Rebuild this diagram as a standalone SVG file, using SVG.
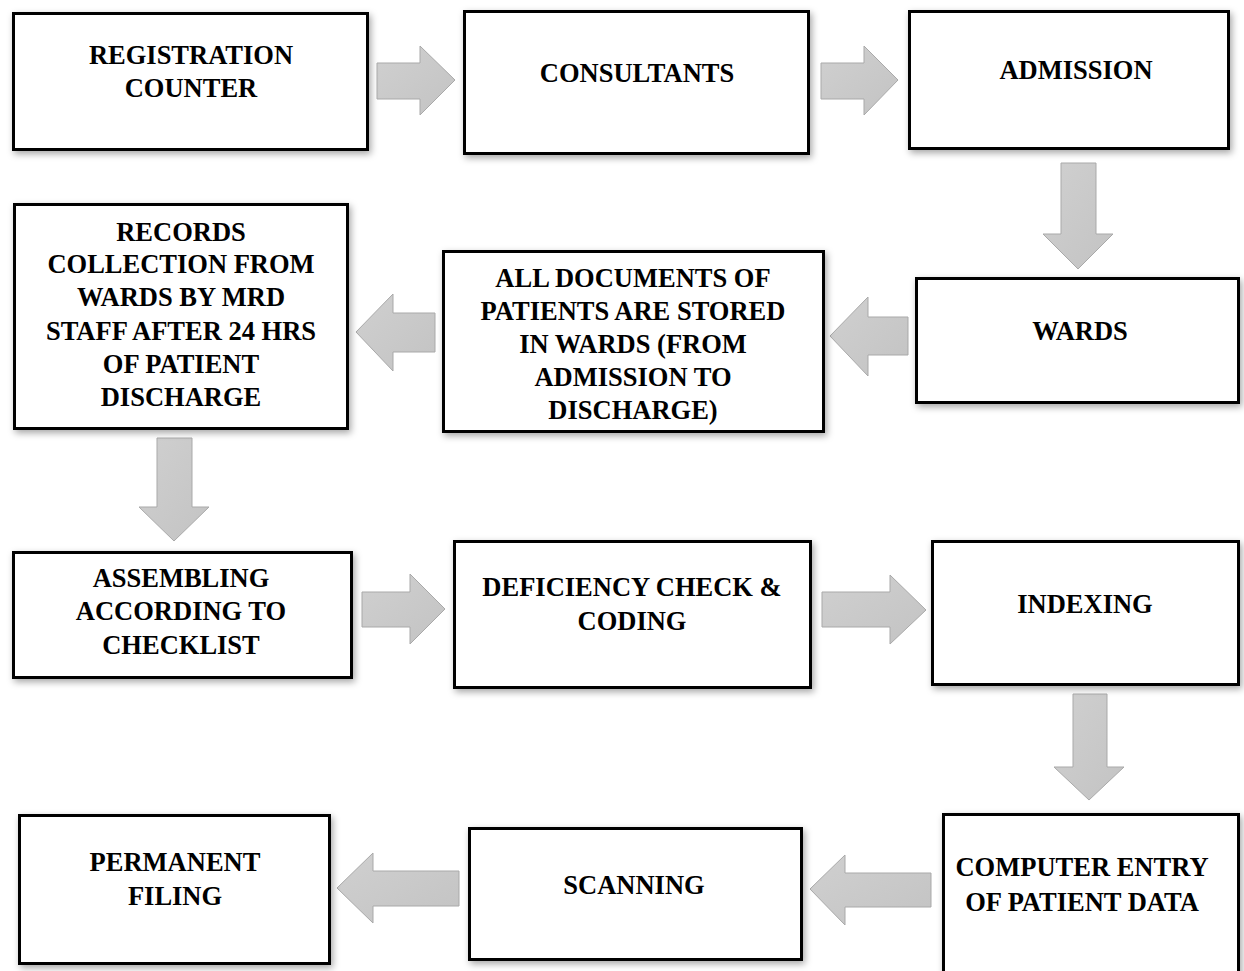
<svg xmlns="http://www.w3.org/2000/svg" width="1244" height="971" viewBox="0 0 1244 971">
  <style>
    .box { fill: #ffffff; stroke: #000000; stroke-width: 3; filter: url(#shadow); }
    .lbl { font-family: "Liberation Serif", "Times New Roman", serif; font-weight: bold; font-size: 26.5px; fill: #000000; text-anchor: middle; }
    .arrow { fill: url(#arrowFill); stroke: #a9a9a9; stroke-width: 1; stroke-linejoin: miter; }
  </style>
  <defs>
    <filter id="shadow" x="-10%" y="-10%" width="120%" height="125%">
      <feDropShadow dx="2" dy="3" stdDeviation="3.5" flood-color="#000000" flood-opacity="0.35"/>
    </filter>
    <linearGradient id="arrowFill" x1="0" y1="0" x2="1" y2="1">
      <stop offset="0" stop-color="#d0d0d0"/>
      <stop offset="1" stop-color="#c3c3c3"/>
    </linearGradient>
  </defs>

  <rect width="1244" height="971" fill="#ffffff"/>

  <!-- block arrows between the stages -->
  <g id="connectors">
    <!-- registration -> consultants -->
    <polygon class="arrow" points="377,63 420,63 420,46 455,80 420,115 420,99 377,99"/>
    <!-- consultants -> admission -->
    <polygon class="arrow" points="821,63 864,63 864,46 898,80 864,115 864,99 821,99"/>
    <!-- admission -> wards -->
    <polygon class="arrow" points="1061,163 1096,163 1096,234 1113,234 1078,269 1043,234 1061,234"/>
    <!-- wards -> documents stored -->
    <polygon class="arrow" points="908,317 868,317 868,297 830,336 868,376 868,355 908,355"/>
    <!-- documents stored -> records collection -->
    <polygon class="arrow" points="435,313 393,313 393,294 356,332 393,371 393,352 435,352"/>
    <!-- records collection -> assembling -->
    <polygon class="arrow" points="157,438 192,438 192,507 209,507 174,541 139,507 157,507"/>
    <!-- assembling -> deficiency check -->
    <polygon class="arrow" points="362,592 410,592 410,574 445,609 410,644 410,627 362,627"/>
    <!-- deficiency check -> indexing -->
    <polygon class="arrow" points="822,592 890,592 890,575 926,610 890,644 890,627 822,627"/>
    <!-- indexing -> computer entry -->
    <polygon class="arrow" points="1073,694 1107,694 1107,767 1124,767 1089,800 1054,767 1073,767"/>
    <!-- computer entry -> scanning -->
    <polygon class="arrow" points="931,873 845,873 845,855 810,889 845,925 845,907 931,907"/>
    <!-- scanning -> permanent filing -->
    <polygon class="arrow" points="459,871 373,871 373,853 337,888 373,923 373,906 459,906"/>
  </g>

  <g id="registration">
    <rect class="box" x="13.5" y="13.5" width="354" height="136"/>
    <text class="lbl" x="191" y="64">REGISTRATION</text>
    <text class="lbl" x="191" y="97">COUNTER</text>
  </g>

  <g id="consultants">
    <rect class="box" x="464.5" y="11.5" width="344" height="142"/>
    <text class="lbl" x="637" y="82">CONSULTANTS</text>
  </g>

  <g id="admission">
    <rect class="box" x="909.5" y="11.5" width="319" height="137"/>
    <text class="lbl" x="1076" y="79">ADMISSION</text>
  </g>

  <g id="wards">
    <rect class="box" x="916.5" y="278.5" width="322" height="124"/>
    <text class="lbl" x="1080" y="340">WARDS</text>
  </g>

  <g id="documents-stored">
    <rect class="box" x="443.5" y="251.5" width="380" height="180"/>
    <text class="lbl" x="633" y="287">ALL DOCUMENTS OF</text>
    <text class="lbl" x="633" y="320">PATIENTS ARE STORED</text>
    <text class="lbl" x="633" y="353">IN WARDS (FROM</text>
    <text class="lbl" x="633" y="386">ADMISSION TO</text>
    <text class="lbl" x="633" y="419">DISCHARGE)</text>
  </g>

  <g id="records-collection">
    <rect class="box" x="14.5" y="204.5" width="333" height="224"/>
    <text class="lbl" x="181" y="241">RECORDS</text>
    <text class="lbl" x="181" y="273">COLLECTION FROM</text>
    <text class="lbl" x="181" y="306">WARDS BY MRD</text>
    <text class="lbl" x="181" y="340">STAFF AFTER 24 HRS</text>
    <text class="lbl" x="181" y="373">OF PATIENT</text>
    <text class="lbl" x="181" y="406">DISCHARGE</text>
  </g>

  <g id="assembling">
    <rect class="box" x="13.5" y="552.5" width="338" height="125"/>
    <text class="lbl" x="181" y="587">ASSEMBLING</text>
    <text class="lbl" x="181" y="620">ACCORDING TO</text>
    <text class="lbl" x="181" y="654">CHECKLIST</text>
  </g>

  <g id="deficiency-check">
    <rect class="box" x="454.5" y="541.5" width="356" height="146"/>
    <text class="lbl" x="632" y="596">DEFICIENCY CHECK &amp;</text>
    <text class="lbl" x="632" y="630">CODING</text>
  </g>

  <g id="indexing">
    <rect class="box" x="932.5" y="541.5" width="306" height="143"/>
    <text class="lbl" x="1085" y="613">INDEXING</text>
  </g>

  <g id="computer-entry">
    <rect class="box" x="943.5" y="814.5" width="295" height="180"/>
    <text class="lbl" x="1082" y="876">COMPUTER ENTRY</text>
    <text class="lbl" x="1082" y="911">OF PATIENT DATA</text>
  </g>

  <g id="scanning">
    <rect class="box" x="469.5" y="828.5" width="332" height="131"/>
    <text class="lbl" x="634" y="894">SCANNING</text>
  </g>

  <g id="permanent-filing">
    <rect class="box" x="19.5" y="815.5" width="310" height="148"/>
    <text class="lbl" x="175" y="871">PERMANENT</text>
    <text class="lbl" x="175" y="905">FILING</text>
  </g>
</svg>
